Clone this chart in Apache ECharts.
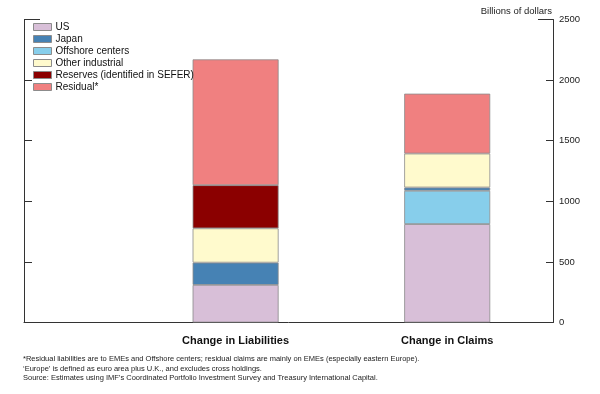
<!DOCTYPE html>
<html>
<head>
<meta charset="utf-8">
<script src="https://cdn.jsdelivr.net/npm/echarts@6/dist/echarts.min.js"></script>
<style>html,body{margin:0;padding:0;background:#fff}#c{width:600px;height:394px}</style>
</head>
<body>
<div id="c"></div>
<script>
// Data (billions of dollars)
const categories = ['Change in Liabilities', 'Change in Claims'];
const US = [310, 812];
const Offshore = [null, 275];
const Japan = [184, 27];
const OtherIndustrial = [283, 280];
const Reserves = [356, null];
const Residual = [1038, 494];
const yTicks = [0, 500, 1000, 1500, 2000, 2500];
const legendOrder = ['US', 'Japan', 'Offshore centers', 'Other industrial', 'Reserves (identified in SEFER)', 'Residual*'];
const footnotes = [
  '*Residual liabilities are to EMEs and Offshore centers; residual claims are mainly on EMEs (especially eastern Europe).',
  '\u2018Europe\u2019 is defined as euro area plus U.K., and excludes cross holdings.',
  'Source: Estimates using IMF\u2019s Coordinated Portfolio Investment Survey and Treasury International Capital.'
];

// axis slots: the two bars sit at slots 2 and 4 of a 6-slot axis (spacing layout only)
const slots = ['', '', categories[0], '', categories[1], ''];
const slotIndex = [2, 4];

const colors = {
  'US': '#D8BFD8',
  'Japan': '#4682B4',
  'Offshore centers': '#87CEEB',
  'Other industrial': '#FFFACD',
  'Reserves (identified in SEFER)': '#8B0000',
  'Residual*': '#F08080'
};

function mk(name, vals) {
  const d = slots.map(() => null);
  vals.forEach((v, i) => { d[slotIndex[i]] = v; });
  return {
    name: name, type: 'bar', stack: 'total', barWidth: 86,
    itemStyle: { color: colors[name], borderColor: '#8c8c8c', borderWidth: 0.8 },
    emphasis: { disabled: true },
    data: d
  };
}

const chart = echarts.init(document.getElementById('c'), null, { renderer: 'canvas' });
const axisCol = '#333';
const font = 'Liberation Sans, Arial, sans-serif';
chart.setOption({
  animation: false,
  textStyle: { fontFamily: font },
  grid: { left: 24, right: 47, top: 19.5, bottom: 71.5, containLabel: false },
  legend: {
    data: legendOrder, orient: 'vertical', left: 33, top: 21, padding: 0,
    itemWidth: 18, itemHeight: 7, itemGap: 0, icon: 'rect',
    selectedMode: false,
    itemStyle: { borderColor: '#8c8c8c', borderWidth: 1 },
    textStyle: { fontSize: 10, lineHeight: 12, color: '#111', fontFamily: font, padding: [0, 0, 0, -1] }
  },
  xAxis: {
    type: 'category', data: slots, boundaryGap: false,
    axisLine: { show: true, lineStyle: { color: axisCol, width: 1 } },
    axisTick: { show: false }, splitLine: { show: false },
    axisLabel: { interval: 0, margin: 13, fontSize: 11, fontWeight: 'bold', color: '#111' }
  },
  yAxis: [
    { type: 'value', position: 'left', min: 0, max: 2500, interval: 500,
      axisLine: { show: true, lineStyle: { color: axisCol } },
      axisTick: { show: true, inside: true, length: 8, lineStyle: { color: axisCol } },
      axisLabel: { show: false }, splitLine: { show: false } },
    { type: 'value', position: 'right', min: 0, max: 2500, interval: 500,
      axisLine: { show: true, lineStyle: { color: axisCol } },
      axisTick: { show: true, inside: true, length: 7, lineStyle: { color: axisCol } },
      axisLabel: { show: true, margin: 6, fontSize: 9.5, color: '#222',
        formatter: v => yTicks.includes(v) ? String(v) : '' },
      splitLine: { show: false } },
    { type: 'value', position: 'left', min: 0, max: 2500, interval: 2500,
      axisLine: { show: false }, axisLabel: { show: false }, splitLine: { show: false },
      axisTick: { show: true, inside: true, length: 16, lineStyle: { color: axisCol } } },
    { type: 'value', position: 'right', min: 0, max: 2500, interval: 2500,
      axisLine: { show: false }, axisLabel: { show: false }, splitLine: { show: false },
      axisTick: { show: true, inside: true, length: 15, lineStyle: { color: axisCol } } }
  ],
  series: [
    mk('US', US),
    mk('Offshore centers', Offshore),
    mk('Japan', Japan),
    mk('Other industrial', OtherIndustrial),
    mk('Reserves (identified in SEFER)', Reserves),
    mk('Residual*', Residual)
  ],
  graphic: [
    { type: 'text', right: 48, top: 6, style: { text: 'Billions of dollars', fontSize: 9.5, fill: '#222', fontFamily: font } }
  ].concat(footnotes.map((t, i) => ({
    type: 'text', left: 23, top: 355 + i * 9.5,
    style: { text: t, fontSize: 7.5, fill: '#222', fontFamily: font }
  })))
});
</script>
</body>
</html>
